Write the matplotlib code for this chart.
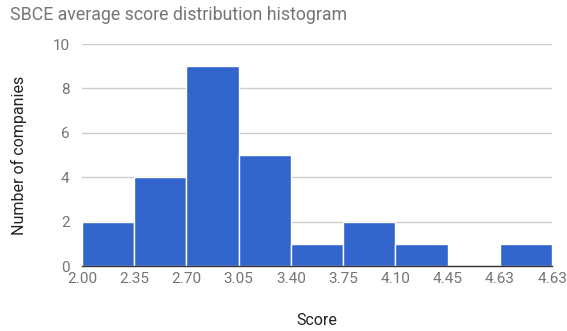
import matplotlib
matplotlib.use("Agg")
import matplotlib.pyplot as plt
import numpy as np

# Histogram bins (edge labels) and company counts per bin
edge_labels = ["2.00", "2.35", "2.70", "3.05", "3.40", "3.75", "4.10", "4.45", "4.63", "4.63"]
counts = [2, 4, 9, 5, 1, 2, 1, 0, 1]
y_ticks = [0, 2, 4, 6, 8, 10]

plt.rcParams['font.family'] = ['Roboto', 'DejaVu Sans']
text_gray = '#757575'

fig = plt.figure(figsize=(5.67, 3.31), dpi=100)
ax = fig.add_axes([82 / 567, 65 / 331, 470 / 567, 222 / 331])

x = np.arange(len(counts))
ax.bar(x, counts, width=1.0, align='edge', color='#3366cc',
       edgecolor='white', linewidth=1.0, zorder=3)

ax.set_xlim(0, len(counts))
ax.set_ylim(0, 10)
ax.set_xticks(np.arange(len(edge_labels)))
ax.set_xticklabels(edge_labels)
ax.set_yticks(y_ticks)

ax.grid(axis='y', color='#cccccc', linewidth=1, zorder=0)
for side in ['top', 'right', 'left']:
    ax.spines[side].set_visible(False)
ax.spines['bottom'].set_color('#333333')
ax.spines['bottom'].set_linewidth(1)
ax.spines['bottom'].set_zorder(4)

ax.tick_params(axis='both', length=0, labelsize=11, labelcolor=text_gray)
ax.tick_params(axis='x', pad=4.5)
ax.tick_params(axis='y', pad=9)

ax.set_xlabel('Score', fontsize=11.5, color='#222222', labelpad=19)
ax.set_ylabel('Number of companies', fontsize=11.5, color='#222222', labelpad=18)

fig.text(10 / 567, 1 - 15 / 331, 'SBCE average score distribution histogram',
         fontsize=12.8, color=text_gray, va='center', ha='left')

fig.savefig('out.png', dpi=100)
